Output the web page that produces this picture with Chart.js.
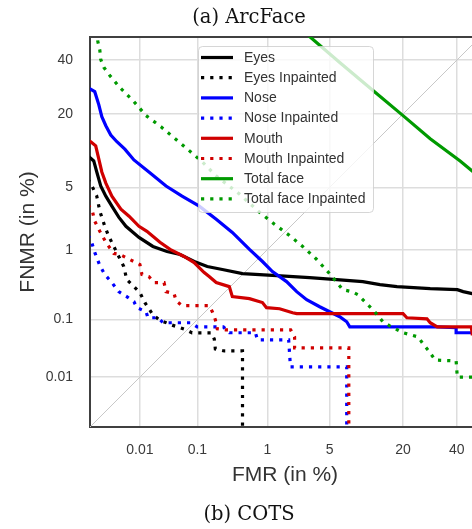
<!DOCTYPE html>
<html>
<head>
<meta charset="utf-8">
<script src="https://cdn.jsdelivr.net/npm/chart.js@4/dist/chart.umd.min.js"></script>
<style>
  html, body { margin: 0; padding: 0; overflow: hidden; background: #fff; }
  canvas { display: block; }
</style>
</head>
<body>
<canvas id="detChart" width="480" height="529"></canvas>
<script>
// values in % (probit axes)
var tickValues = [0.01, 0.1, 1, 5, 20, 40];
var diagonal = [0.0005, 60];

var eyesFmr = [0.0009, 0.0012, 0.00139, 0.00168, 0.00214, 0.00284, 0.0039, 0.0054, 0.0096, 0.0174, 0.031, 0.052, 0.089, 0.143, 0.242, 0.47, 1.31, 3.12, 5.86, 10.0, 13.7, 18.2, 29.3, 40.2, 42.7, 46.6, 50];
var eyesFnmr = [9.68, 8.77, 7.0, 5.16, 4.09, 3.22, 2.44, 1.92, 1.42, 1.10, 0.951, 0.870, 0.704, 0.604, 0.550, 0.484, 0.454, 0.426, 0.399, 0.374, 0.338, 0.317, 0.296, 0.286, 0.268, 0.251, 0.233];

var eyesInpFmr = [0.0009, 0.0011, 0.00139, 0.00161, 0.00204, 0.00246, 0.00311, 0.0039, 0.0049, 0.0056, 0.0077, 0.0100, 0.0124, 0.0147, 0.0174, 0.0224, 0.0365, 0.0655, 0.0822, 0.165, 0.183, 0.190, 0.259, 0.47, 0.47, 0.47];
var eyesInpFnmr = [6.02, 5.16, 4.09, 2.84, 1.92, 1.46, 1.10, 0.820, 0.604, 0.399, 0.317, 0.259, 0.183, 0.148, 0.119, 0.0994, 0.0825, 0.0682, 0.0608, 0.0608, 0.048, 0.0324, 0.0298, 0.0298, 0.0206, 0.0005];

var noseFmr = [0.0009, 0.00126, 0.00153, 0.00177, 0.00214, 0.0027, 0.00358, 0.00514, 0.0077, 0.0147, 0.0298, 0.056, 0.107, 0.196, 0.338, 0.585, 0.868, 1.16, 1.72, 2.25, 2.90, 3.98, 5.01, 6.25, 7.25, 7.72, 32.0, 39.7, 39.7, 50];
var noseFnmr = [29.0, 27.5, 23.0, 19.2, 16.6, 14.2, 12.6, 11.0, 8.94, 7.0, 5.16, 4.09, 3.22, 2.31, 1.63, 1.01, 0.704, 0.516, 0.374, 0.268, 0.203, 0.159, 0.133, 0.111, 0.0922, 0.0765, 0.0765, 0.0737, 0.061, 0.061];

var noseInpFmr = [0.0009, 0.00104, 0.00126, 0.00161, 0.00204, 0.00284, 0.0039, 0.0056, 0.0077, 0.0088, 0.0130, 0.0141, 0.0215, 0.0264, 0.079, 0.099, 0.250, 0.306, 0.703, 0.747, 1.82, 1.91, 7.25, 7.25];
var noseInpFnmr = [1.50, 1.34, 0.924, 0.623, 0.469, 0.362, 0.268, 0.226, 0.190, 0.154, 0.133, 0.107, 0.107, 0.089, 0.089, 0.0765, 0.0765, 0.061, 0.061, 0.0464, 0.0464, 0.0154, 0.0154, 0.0005];

var mouthFmr = [0.0009, 0.00104, 0.00132, 0.00153, 0.00177, 0.00214, 0.00284, 0.0043, 0.0062, 0.0096, 0.0135, 0.0233, 0.035, 0.0606, 0.0886, 0.128, 0.153, 0.196, 0.306, 0.338, 0.585, 0.868, 0.977, 1.42, 2.02, 2.25, 20.0, 21.2, 28.1, 29.3, 32.0, 46.2, 46.6, 50];
var mouthFnmr = [13.0, 12.6, 11.7, 9.11, 7.0, 5.51, 4.09, 2.98, 2.50, 1.92, 1.68, 1.24, 1.01, 0.820, 0.683, 0.500, 0.440, 0.362, 0.317, 0.226, 0.211, 0.184, 0.154, 0.148, 0.128, 0.124, 0.124, 0.107, 0.103, 0.089, 0.0765, 0.0765, 0.0584, 0.0584];

var mouthInpFmr = [0.0009, 0.0011, 0.00126, 0.00161, 0.00214, 0.00311, 0.0041, 0.0064, 0.0100, 0.0109, 0.0147, 0.0182, 0.0275, 0.0298, 0.0411, 0.0445, 0.0563, 0.153, 0.171, 0.190, 0.203, 0.268, 1.92, 2.13, 2.13, 7.57, 7.57];
var mouthInpFnmr = [3.30, 2.98, 2.20, 1.68, 1.24, 0.897, 0.870, 0.749, 0.642, 0.469, 0.440, 0.362, 0.362, 0.268, 0.250, 0.196, 0.165, 0.165, 0.133, 0.0994, 0.0709, 0.0682, 0.0682, 0.052, 0.0337, 0.0337, 0.0005];

var totalFmr = [2.24, 6.25, 12.1, 20.0, 29.3, 41.4, 46.6, 51.9];
var totalFnmr = [55.1, 39.0, 27.9, 19.5, 13.3, 8.77, 7.15, 5.76];

var totalInpFmr = [0.00139, 0.00146, 0.00161, 0.00168, 0.00195, 0.00258, 0.00411, 0.00769, 0.0130, 0.0243, 0.0428, 0.0737, 0.119, 0.196, 0.426, 0.794, 1.23, 1.86, 2.62, 3.62, 4.79, 5.48, 6.67, 8.05, 9.07, 10.4, 12.5, 14.4, 16.2, 20.0, 24.9, 26.7, 28.5, 31.2, 39.7, 40.2, 50];
var totalInpFnmr = [52.5, 48.1, 44.2, 40.3, 37.0, 33.7, 29.0, 24.0, 19.5, 16.3, 13.3, 10.7, 8.6, 6.43, 4.29, 2.77, 2.03, 1.50, 1.10, 0.772, 0.516, 0.412, 0.286, 0.268, 0.242, 0.190, 0.133, 0.092, 0.079, 0.061, 0.052, 0.0395, 0.031, 0.0206, 0.0198, 0.0100, 0.0100];

// inverse normal cdf (Acklam)
function probit(p) {
    var a = [-3.969683028665376e+01, 2.209460984245205e+02, -2.759285104469687e+02, 1.383577518672690e+02, -3.066479806614716e+01, 2.506628277459239e+00];
    var b = [-5.447609879822406e+01, 1.615858368580409e+02, -1.556989798598866e+02, 6.680131188771972e+01, -1.328068155288572e+01];
    var c = [-7.784894002430293e-03, -3.223964580411365e-01, -2.400758277161838e+00, -2.549732539343734e+00, 4.374664141464968e+00, 2.938163982698783e+00];
    var d = [7.784695709041462e-03, 3.224671290700398e-01, 2.445134137142996e+00, 3.754408661907416e+00];
    var q, r;
    if (p < 0.02425) {
        q = Math.sqrt(-2 * Math.log(p));
        return (((((c[0] * q + c[1]) * q + c[2]) * q + c[3]) * q + c[4]) * q + c[5]) / ((((d[0] * q + d[1]) * q + d[2]) * q + d[3]) * q + 1);
    }
    if (p <= 1 - 0.02425) {
        q = p - 0.5; r = q * q;
        return (((((a[0] * r + a[1]) * r + a[2]) * r + a[3]) * r + a[4]) * r + a[5]) * q / (((((b[0] * r + b[1]) * r + b[2]) * r + b[3]) * r + b[4]) * r + 1);
    }
    q = Math.sqrt(-2 * Math.log(1 - p));
    return -(((((c[0] * q + c[1]) * q + c[2]) * q + c[3]) * q + c[4]) * q + c[5]) / ((((d[0] * q + d[1]) * q + d[2]) * q + d[3]) * q + 1);
}

function normCdf(z) {
    var t = 1 / (1 + 0.2316419 * Math.abs(z));
    var y = 0.3989423 * Math.exp(-z * z / 2) * t * (0.3193815 + t * (-0.3565638 + t * (1.781478 + t * (-1.821256 + t * 1.330274))));
    return z > 0 ? 1 - y : y;
}

// probit scale, values given in %
class ProbitScale extends Chart.LinearScale {
    buildTicks() {
        var self = this;
        return tickValues.filter(function (v) { return v >= self.min && v <= self.max; })
            .map(function (v) { return {value: v}; });
    }
    configure() {
        super.configure();
        this._zStart = probit(this.min / 100);
        this._zRange = probit(this.max / 100) - this._zStart;
    }
    getPixelForValue(value) {
        return this.getPixelForDecimal((probit(value / 100) - this._zStart) / this._zRange);
    }
    getValueForPixel(pixel) {
        return 100 * normCdf(this._zStart + this.getDecimalForPixel(pixel) * this._zRange);
    }
}
ProbitScale.id = 'probit';
ProbitScale.defaults = {};
Chart.register(ProbitScale);

function pts(xs, ys) {
    return xs.map(function (x, i) { return {x: x, y: ys[i]}; });
}

var dotted = [3.2, 6];
var series = [
    {label: "Eyes", x: eyesFmr, y: eyesFnmr, color: "#000000", dash: []},
    {label: "Eyes Inpainted", x: eyesInpFmr, y: eyesInpFnmr, color: "#000000", dash: dotted},
    {label: "Nose", x: noseFmr, y: noseFnmr, color: "#0000ff", dash: []},
    {label: "Nose Inpainted", x: noseInpFmr, y: noseInpFnmr, color: "#0000ff", dash: dotted},
    {label: "Mouth", x: mouthFmr, y: mouthFnmr, color: "#d00000", dash: []},
    {label: "Mouth Inpainted", x: mouthInpFmr, y: mouthInpFnmr, color: "#d00000", dash: dotted},
    {label: "Total face", x: totalFmr, y: totalFnmr, color: "#009a00", dash: []},
    {label: "Total face Inpainted", x: totalInpFmr, y: totalInpFnmr, color: "#009a00", dash: dotted}
];

var datasets = series.map(function (s, i) {
    return {
        label: s.label,
        data: pts(s.x, s.y),
        borderColor: s.color,
        borderWidth: 3.2,
        borderDash: s.dash,
        pointRadius: 0,
        fill: false,
        tension: 0,
        order: series.length - i
    };
});
datasets.push({
    label: "",
    data: pts(diagonal, diagonal),
    borderColor: "#c8c8c8",
    borderWidth: 1,
    pointRadius: 0,
    fill: false,
    order: 20
});

// legend box drawn on top of the curves, like matplotlib's
var insideLegend = {
    id: 'insideLegend',
    afterDatasetsDraw: function (chart) {
        var ctx = chart.ctx, area = chart.chartArea;
        var left = area.left + 108, top = area.top + 9, w = 175, h = 166;
        ctx.save();
        ctx.beginPath();
        if (ctx.roundRect) ctx.roundRect(left + 0.5, top + 0.5, w, h, 4);
        else ctx.rect(left + 0.5, top + 0.5, w, h);
        ctx.fillStyle = "rgba(255,255,255,0.8)";
        ctx.fill();
        ctx.strokeStyle = "rgba(204,204,204,0.8)";
        ctx.lineWidth = 1;
        ctx.stroke();
        ctx.font = '14px "Liberation Sans", Arial, sans-serif';
        ctx.textBaseline = 'middle';
        var row = 0;
        chart.data.datasets.forEach(function (ds) {
            if (!ds.label) return;
            var y = top + 11.5 + row * 20.2;
            ctx.beginPath();
            ctx.setLineDash(ds.borderDash || []);
            ctx.strokeStyle = ds.borderColor;
            ctx.lineWidth = ds.borderWidth;
            ctx.moveTo(left + 3, y);
            ctx.lineTo(left + 35, y);
            ctx.stroke();
            ctx.setLineDash([]);
            ctx.fillStyle = "#333333";
            ctx.fillText(ds.label, left + 46, y + 0.5);
            row++;
        });
        ctx.restore();
    }
};

var gridStyle = {color: "#dddddd", lineWidth: 1.5, drawTicks: false};
var borderStyle = {color: "#404040", width: 2};
var tickFont = {family: "Liberation Sans", size: 14};
var axisFont = {family: "Liberation Sans", size: 21, lineHeight: 1};

new Chart(document.getElementById("detChart"), {
    type: 'line',
    data: {datasets: datasets},
    options: {
        responsive: false,
        animation: false,
        events: [],
        layout: {padding: {left: 18, right: 0, top: 0, bottom: 0}},
        plugins: {
            legend: {display: false},
            tooltip: {enabled: false},
            title: {
                display: true,
                text: "(a) ArcFace",
                color: "#111111",
                font: {family: "DejaVu Serif", size: 19.5, weight: 'normal', lineHeight: 1.2},
                padding: {top: 6, bottom: 7.6}
            },
            subtitle: {
                display: true,
                position: 'bottom',
                text: "(b) COTS",
                color: "#111111",
                font: {family: "DejaVu Serif", size: 19.5, weight: 'normal', lineHeight: 1.2},
                padding: {top: 0, bottom: 2}
            }
        },
        scales: {
            x: {
                type: 'probit',
                position: 'bottom',
                min: 0.001,
                max: 50,
                grid: gridStyle,
                border: borderStyle,
                ticks: {autoSkip: false, maxRotation: 0, padding: 15, color: "#3a3a3a", font: tickFont,
                    callback: function (v) { return String(v); }},
                title: {display: true, text: "FMR (in %)", color: "#333333", font: axisFont, padding: {top: 0, bottom: 18}},
                afterFit: function (s) { s.height = 76.6; }
            },
            y: {
                type: 'probit',
                position: 'left',
                min: 0.001,
                max: 50,
                grid: gridStyle,
                border: borderStyle,
                ticks: {autoSkip: false, padding: 17, color: "#3a3a3a", font: tickFont,
                    callback: function (v) { return String(v); }},
                title: {display: true, text: "FNMR (in %)", color: "#333333", font: axisFont, padding: {top: 0, bottom: 0}},
                afterFit: function (s) { s.width = 72; }
            },
            x2: {
                type: 'linear',
                position: 'top',
                grid: {display: false, drawTicks: false},
                ticks: {display: false},
                border: borderStyle,
                afterFit: function (s) { s.height = 0; }
            }
        }
    },
    plugins: [insideLegend]
});
</script>
</body>
</html>
